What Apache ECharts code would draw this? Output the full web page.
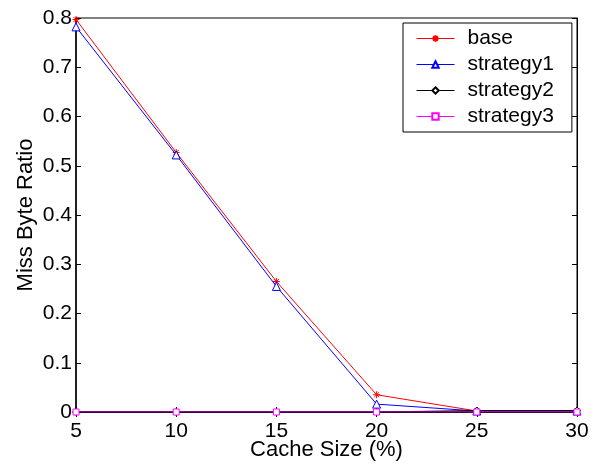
<!DOCTYPE html>
<html><head><meta charset="utf-8">
<script src="https://cdn.jsdelivr.net/npm/echarts@6/dist/echarts.min.js"></script>
<style>html,body{margin:0;padding:0;background:#fff}#c{width:595px;height:464px}</style>
</head><body><div id="c"></div>
<script>
const categories = [5, 10, 15, 20, 25, 30];
const base = [0.797, 0.527, 0.265, 0.035, 0.002, 0.002];
const strategy1 = [0.782, 0.522, 0.255, 0.016, 0.002, 0.002];
const strategy2 = [0.0, 0.0, 0.0, 0.0, 0.003, 0.003];
const strategy3 = [0.0, 0.0, 0.0, 0.0, 0.0, 0.0];
const yTicks = [0, 0.1, 0.2, 0.3, 0.4, 0.5, 0.6, 0.7, 0.8];

const font = 'Liberation Sans, Arial, Helvetica, sans-serif';
const chart = echarts.init(document.getElementById('c'));
const star = 'path://M0,-10L0,10M-10,0L10,0M-7,-7L7,7M-7,7L7,-7';
function pairs(arr){ return categories.map((x,i)=>[x, arr[i]]); }
function mk(name, data, color, symbol, size, z){
  return {name, type:'line', data:pairs(data), symbol, symbolSize:size, showSymbol:true,
    lineStyle:{color, width:1}, itemStyle:{color: symbol===star? color : '#fff', borderColor:color, borderWidth:1},
    emphasis:{disabled:true}, z, animation:false};
}
chart.setOption({
  animation:false,
  grid:{left:76, right:18, top:18, bottom:52, show:true, borderColor:'#000', borderWidth:1,
    containLabel:false, outerBoundsMode:'none'},
  legend:{orient:'vertical', left:403, top:23, padding:[5,18,5,13], itemGap:5,
    borderColor:'#000', borderWidth:1, backgroundColor:'#fff', itemWidth:38, itemHeight:8,
    lineStyle:{width:1},
    textStyle:{fontFamily:font, fontSize:21, color:'#000', padding:[0,0,0,8]},
    data:['base','strategy1','strategy2','strategy3']},
  xAxis:[{type:'value', min:5, max:30, interval:5, position:'bottom',
    name:'Cache Size (%)', nameLocation:'middle', nameGap:27, nameMoveOverlap:false,
    nameTextStyle:{fontFamily:font, fontSize:22, color:'#000'},
    axisLine:{lineStyle:{color:'#000', width:1.5}}, axisTick:{inside:true, length:5, lineStyle:{color:'#000'}},
    axisLabel:{fontFamily:font, fontSize:21, color:'#000', margin:9}, splitLine:{show:false}},
   {type:'value', min:5, max:30, interval:5, position:'top',
    axisLine:{lineStyle:{color:'#000'}}, axisTick:{inside:true, length:5, lineStyle:{color:'#000'}},
    axisLabel:{show:false}, splitLine:{show:false}}],
  yAxis:[{type:'value', min:0, max:0.8, interval:0.1, position:'left',
    name:'Miss Byte Ratio', nameLocation:'middle', nameGap:39, nameMoveOverlap:false,
    nameTextStyle:{fontFamily:font, fontSize:22, color:'#000'},
    axisLine:{show:true, lineStyle:{color:'#000', width:1.5}}, axisTick:{show:true, inside:true, length:5, lineStyle:{color:'#000'}},
    axisLabel:{fontFamily:font, fontSize:21, color:'#000', margin:4,
      formatter:v=>{const t=yTicks.find(t=>Math.abs(t-v)<1e-9); return t===0?'0':String(+t.toFixed(1));}},
    splitLine:{show:false}},
   {type:'value', min:0, max:0.8, interval:0.1, position:'right',
    axisLine:{show:true, lineStyle:{color:'#000'}}, axisTick:{show:true, inside:true, length:5, lineStyle:{color:'#000'}},
    axisLabel:{show:false}, splitLine:{show:false}}],
  series:[
    mk('base', base, '#ff0000', star, 7, 2),
    mk('strategy1', strategy1, '#0000ff', 'triangle', 8, 3),
    mk('strategy2', strategy2, '#000000', 'diamond', 7, 4),
    mk('strategy3', strategy3, '#ff00ff', 'rect', 6, 5)
  ]
});
</script></body></html>
